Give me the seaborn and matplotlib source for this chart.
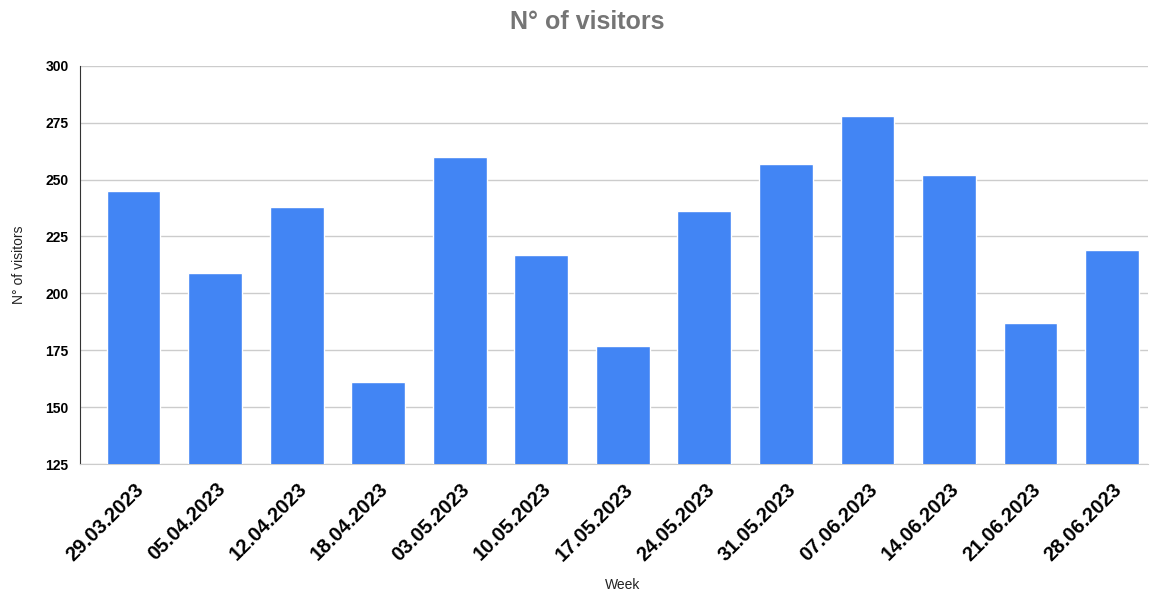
import matplotlib
matplotlib.use("Agg")
import matplotlib.pyplot as plt
import matplotlib.transforms as mtransforms
import seaborn as sns
import pandas as pd

# Data
weeks = ['29.03.2023', '05.04.2023', '12.04.2023', '18.04.2023', '03.05.2023',
         '10.05.2023', '17.05.2023', '24.05.2023', '31.05.2023', '07.06.2023',
         '14.06.2023', '21.06.2023', '28.06.2023']
visitors = [245, 209, 238, 161, 260, 217, 177, 236, 257, 278, 252, 187, 219]
y_ticks = [125, 150, 175, 200, 225, 250, 275, 300]

df = pd.DataFrame({'Week': weeks, 'Visitors': visitors})

sns.set_style('white')
plt.rcParams['font.family'] = ['Liberation Sans', 'DejaVu Sans']

fig = plt.figure(figsize=(11.56, 5.92), dpi=100)
ax = fig.add_axes([0.069, 0.216, 0.924, 0.673])

sns.barplot(data=df, x='Week', y='Visitors', color='#4285F4', width=0.66,
            saturation=1, ax=ax, zorder=3)

ax.set_ylim(125, 300)
ax.set_xlim(-0.66, 12.44)
ax.set_yticks(y_ticks)
ax.set_yticklabels([str(t) for t in y_ticks], fontsize=10, fontweight='bold',
                   color='black')
ax.yaxis.grid(True, color='#cccccc', linewidth=1, zorder=0)
ax.tick_params(axis='both', length=0, pad=8)

ax.set_xticks(range(len(weeks)))
ax.set_xticklabels(weeks, rotation=45, ha='right', va='center',
                   rotation_mode='anchor', fontsize=14.5, fontweight='bold',
                   color='black')
ax.tick_params(axis='x', pad=16)
# nudge labels a little to the right, like the original
shift = mtransforms.ScaledTranslation(7 / 100, 0, fig.dpi_scale_trans)
for lbl in ax.get_xticklabels():
    lbl.set_transform(lbl.get_transform() + shift)

for s in ['top', 'right']:
    ax.spines[s].set_visible(False)
ax.spines['left'].set_color('#333333')
ax.spines['bottom'].set_color('#cccccc')

ax.set_xlabel('Week', fontsize=10, color='#222222', va='center')
ax.set_ylabel('N° of visitors', fontsize=10, color='#222222', labelpad=14)
ax.xaxis.set_label_coords(0.508, -0.304)
fig.text(0.508, 0.962, 'N° of visitors', ha='center', va='center',
         fontsize=18, fontweight='bold', color='#757575')

fig.savefig('out.png', dpi=100)
